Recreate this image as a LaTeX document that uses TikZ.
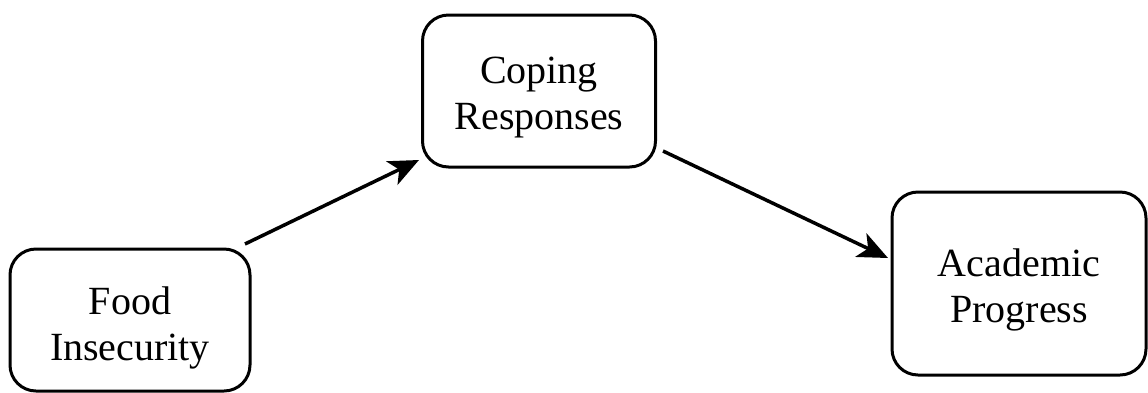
\documentclass[tikz,border=0pt]{standalone}
\usepackage{fontspec}
\setmainfont{Liberation Serif}
\usetikzlibrary{arrows.meta}
\begin{document}
\begin{tikzpicture}[x=1pt,y=-1pt,
  box/.style={draw=black, line width=3pt, rounded corners=26pt, fill=white, inner sep=0pt},
  txt/.style={align=center, inner sep=0pt, font=\fontsize{40}{46}\selectfont},
  link/.style={line width=3.5pt, -{Stealth[length=30pt,width=26pt,inset=8pt]}}]
\useasboundingbox (0,0) rectangle (1148,392);
\node[box, minimum width=240pt, minimum height=142pt] (food) at (130,320) {};
\node[box, minimum width=233pt, minimum height=152pt] (coping) at (539,91) {};
\node[box, minimum width=254pt, minimum height=183pt] (acad) at (1019,283.5) {};
\node[txt] (foodt) at ([yshift=-8pt]food.center) {Food\\Insecurity};
\node[txt] (copingt) at ([yshift=-7pt]coping.center) {Coping\\Responses};
\node[txt] (acadt) at ([yshift=-6pt]acad.center) {Academic\\Progress};
\coordinate (s1) at (245,244);
\coordinate (e1) at (419,160);
\coordinate (s2) at (663,151);
\coordinate (e2) at (888,258);
\draw[link] (s1) -- (e1);
\draw[link] (s2) -- (e2);
\end{tikzpicture}
\end{document}
